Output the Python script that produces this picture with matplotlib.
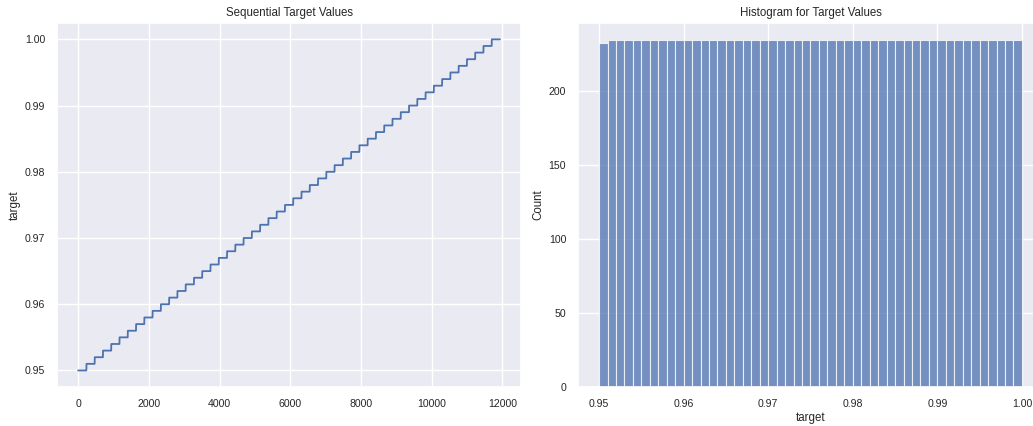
import matplotlib
matplotlib.use('Agg')
import matplotlib.pyplot as plt
import seaborn as sns
import numpy as np

# target levels (also the histogram bin edges)
levels = [0.950, 0.951, 0.952, 0.953, 0.954, 0.955, 0.956, 0.957, 0.958, 0.959,
          0.960, 0.961, 0.962, 0.963, 0.964, 0.965, 0.966, 0.967, 0.968, 0.969,
          0.970, 0.971, 0.972, 0.973, 0.974, 0.975, 0.976, 0.977, 0.978, 0.979,
          0.980, 0.981, 0.982, 0.983, 0.984, 0.985, 0.986, 0.987, 0.988, 0.989,
          0.990, 0.991, 0.992, 0.993, 0.994, 0.995, 0.996, 0.997, 0.998, 0.999,
          1.000]
level_sizes = [234] * 51  # rows per level in the sequence

hist_counts = [232] + [234] * 49

target = np.repeat(levels, level_sizes)

sns.set_theme(style='darkgrid')
plt.rcParams['font.family'] = ['Liberation Sans', 'DejaVu Sans']

fig = plt.figure(figsize=(10.33, 4.26), dpi=100)
ax1 = fig.add_axes([0.0552, 0.0915, 0.4492, 0.855])
ax2 = fig.add_axes([0.5595, 0.0915, 0.4502, 0.855])

ax1.plot(np.arange(len(target)), target, color='#4C72B0', lw=1.3)
ax1.set_title('Sequential Target Values', fontsize=8.3, pad=5)
ax1.set_ylabel('target', fontsize=8.3, labelpad=3)
ax1.set_yticks([0.95, 0.96, 0.97, 0.98, 0.99, 1.00])
ax1.tick_params(labelsize=7.6, pad=2.5)

ax2.hist(levels[:-1], bins=levels, weights=hist_counts, color='#4C72B0',
         alpha=0.75, edgecolor='white', linewidth=0.8)
ax2.set_title('Histogram for Target Values', fontsize=8.3, pad=5)
ax2.set_xlabel('target', fontsize=8.3, labelpad=2)
ax2.set_ylabel('Count', fontsize=8.3, labelpad=3)
ax2.set_xlim(0.9475, 1.0025)
ax2.set_xticks([0.95, 0.96, 0.97, 0.98, 0.99, 1.00])
ax2.tick_params(labelsize=7.6, pad=2.5)

fig.savefig('out.png', dpi=100)
